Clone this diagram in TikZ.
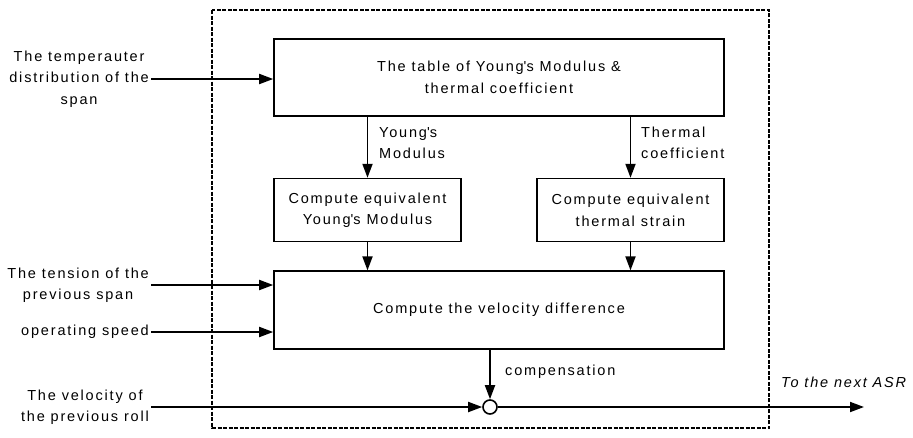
\documentclass[tikz,border=0pt]{standalone}
\usepackage{fontspec}
\setmainfont{Liberation Sans}[LetterSpace=12.5]
\usetikzlibrary{arrows.meta,positioning}

\begin{document}
\begin{tikzpicture}[x=1pt,y=-1pt,
font=\fontsize{14.5}{21.5}\selectfont,
box/.style={draw,line width=1.6pt,align=center,inner sep=2pt},
arr/.style={-{Triangle[length=14pt,width=10pt]},line width=1.8pt},
lbl/.style={align=center,inner sep=2pt}]
\useasboundingbox (0,0) rectangle (913,437);
% frame of the block
\draw[line width=1.3pt,dash pattern=on 4pt off 1.5pt] (212,10) rectangle (769,428);
% boxes
\node[box,minimum width=450pt,minimum height=77pt] (table) at (499,77.5) {The table of Young\textquotesingle s Modulus \&\\thermal coefficient};
\node[box,minimum width=187pt,minimum height=63pt,anchor=north west] (ymod) at ([yshift=-61pt]table.south west) {Compute equivalent\\Young\textquotesingle s Modulus};
\node[box,minimum width=187pt,minimum height=63pt,anchor=north east] (tstrain) at ([yshift=-61pt]table.south east) {Compute equivalent\\thermal strain};
\node[box,minimum width=450pt,minimum height=78pt,anchor=north west] (vdiff) at ([yshift=-28pt]ymod.south west) {Compute the velocity difference};
\node[draw,circle,line width=1.6pt,minimum size=14pt,inner sep=0pt,fill=white] (sum) at (490,407) {};
% inputs
\node[lbl,anchor=east] (temp) at (151,79) {The temperauter\\distribution of the\\span};
\node[lbl,anchor=east] (tens) at (151,285) {The tension of the\\previous span};
\node[lbl,anchor=east] (speed) at (151,332) {operating speed};
\node[lbl,anchor=east] (vel) at (151,407) {The velocity of\\the previous roll};
\coordinate (next) at (864,407);
% labels
\node[lbl,align=left,anchor=west] (ylab) at (377,143) {Young\textquotesingle s\\Modulus};
\node[lbl,align=left,anchor=west] (tlab) at (639,143) {Thermal\\coefficient};
\node[lbl,anchor=west] (clab) at (503,372) {compensation};
\node[lbl,anchor=west,font=\fontsize{14.5}{21.5}\selectfont\itshape] (olab) at (779,382) {To the next ASR};
% connectors
\draw[arr] (temp.east) -- (table.west |- temp.east);
\draw[arr] (table.south -| ymod) -- (ymod.north);
\draw[arr] (table.south -| tstrain) -- (tstrain.north);
\draw[arr] (ymod.south) -- (vdiff.north -| ymod);
\draw[arr] (tstrain.south) -- (vdiff.north -| tstrain);
\draw[arr] (tens.east) -- (vdiff.west |- tens.east);
\draw[arr] (speed.east) -- (vdiff.west |- speed.east);
\draw[arr] (vdiff.south -| sum) -- (sum.north);
\draw[arr] (vel.east) -- (sum.west);
\draw[arr] (sum.east) -- (next);
\end{tikzpicture}
\end{document}
